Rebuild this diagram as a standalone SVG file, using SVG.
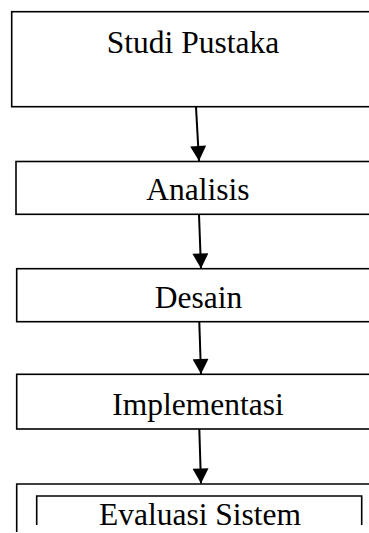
<svg xmlns="http://www.w3.org/2000/svg" width="369" height="533" viewBox="0 0 369 533">
<style>
.box{fill:#fff;stroke:#000;stroke-width:1.6}
.lbl{font-family:"Liberation Serif","Times New Roman",serif;font-size:31.5px;fill:#000;text-anchor:middle}
.conn{stroke:#000;stroke-width:2;fill:none}
</style>
<defs>
<marker id="ah" markerUnits="userSpaceOnUse" markerWidth="16" markerHeight="16" viewBox="0 0 15 16" refX="15" refY="8" orient="auto">
<path d="M0,0 L15,8 L0,16 z" fill="#000"/>
</marker>
</defs>
<rect width="369" height="533" fill="#fff"/>
<g id="n1">
<rect class="box" x="11.7" y="11.7" width="370" height="95"/>
<text class="lbl" x="193" y="52.7">Studi Pustaka</text>
</g>
<g id="n2">
<rect class="box" x="16" y="161.5" width="366" height="52.8"/>
<text class="lbl" x="198" y="200">Analisis</text>
</g>
<g id="n3">
<rect class="box" x="16.7" y="268.7" width="366" height="53"/>
<text class="lbl" x="198.5" y="308.3">Desain</text>
</g>
<g id="n4">
<rect class="box" x="16.7" y="374.3" width="366" height="54.7"/>
<text class="lbl" x="198" y="415">Implementasi</text>
</g>
<g id="n5">
<path class="box" d="M16.7,532 V484 H382"/>
<path class="box" d="M36.7,525 V496 H361.7 V525" fill="none"/>
<text class="lbl" x="200" y="524.5">Evaluasi Sistem</text>
</g>
<g id="connectors">
<line class="conn" x1="196" y1="107" x2="199" y2="161" marker-end="url(#ah)"/>
<line class="conn" x1="199" y1="214.5" x2="201" y2="268.5" marker-end="url(#ah)"/>
<line class="conn" x1="199.3" y1="322" x2="201" y2="374" marker-end="url(#ah)"/>
<line class="conn" x1="199.3" y1="429" x2="201" y2="483.5" marker-end="url(#ah)"/>
</g>
</svg>
